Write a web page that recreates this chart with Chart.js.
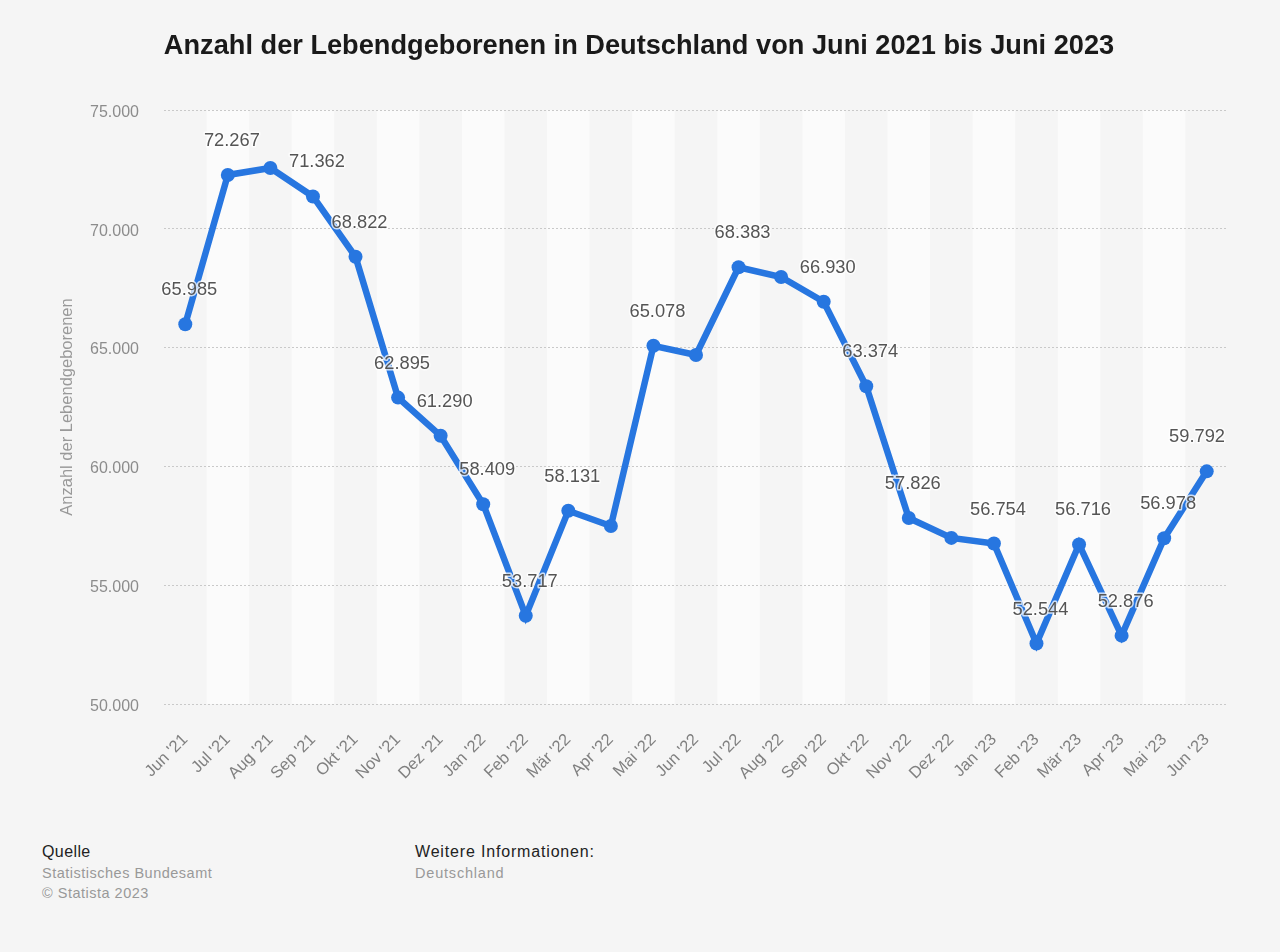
<!DOCTYPE html>
<html lang="de">
<head>
<meta charset="utf-8">
<title>Lebendgeborene in Deutschland</title>
<script src="https://cdn.jsdelivr.net/npm/chart.js@4"></script>
<style>
    html, body { margin: 0; padding: 0; background: #f5f5f5; font-family: "Liberation Sans", Arial, sans-serif; }
    #wrap { position: relative; width: 1280px; height: 952px; overflow: hidden; }
    #geburten_chart { position: absolute; left: 0; top: 0; }
    .quelle { position: absolute; top: 842px; font-size: 14.5px; line-height: 20.5px; color: #999; letter-spacing: 0.5px; }
    .quelle b { display: block; font-weight: normal; font-size: 16px; color: #222; letter-spacing: 0.4px; }
</style>
</head>
<body>
<div id="wrap">
    <canvas id="geburten_chart" width="1280" height="800"></canvas>
    <div class="quelle" style="left: 42px;"><b>Quelle</b>Statistisches Bundesamt<br>© Statista 2023</div>
    <div class="quelle" style="left: 415px; letter-spacing: 0.8px;"><b style="letter-spacing: 0.83px;">Weitere Informationen:</b>Deutschland</div>
</div>
<script>
const monate = ["Jun '21", "Jul '21", "Aug '21", "Sep '21", "Okt '21", "Nov '21", "Dez '21", "Jan '22", "Feb '22", "Mär '22", "Apr '22", "Mai '22", "Jun '22", "Jul '22", "Aug '22", "Sep '22", "Okt '22", "Nov '22", "Dez '22", "Jan '23", "Feb '23", "Mär '23", "Apr '23", "Mai '23", "Jun '23"];
const geburten = [65985, 72267, 72560, 71362, 68822, 62895, 61290, 58409, 53717, 58131, 57490, 65078, 64690, 68383, 67970, 66930, 63374, 57826, 56990, 56754, 52544, 56716, 52876, 56978, 59792];
const ohne_label = ["Aug '21", "Apr '22", "Jun '22", "Aug '22", "Dez '22"];
const y_ticks = [50000, 55000, 60000, 65000, 70000, 75000];

const zahl_format = new Intl.NumberFormat("de-DE");

// helle Streifen hinter jedem zweiten Monat
const streifen_plugin = {
    id: "streifen",
    beforeDraw(chart) {
        const { ctx, chartArea, scales } = chart;
        const breite = scales.x.getPixelForValue(1) - scales.x.getPixelForValue(0);
        ctx.save();
        ctx.fillStyle = "#fbfbfb";
        monate.forEach((monat, i) => {
            if (i % 2 == 1) {
                const mitte = scales.x.getPixelForValue(i);
                ctx.fillRect(mitte - breite / 2, chartArea.top, breite, chartArea.height);
            }
        });
        ctx.restore();
    }
};

const werte_plugin = {
    id: "werte",
    afterDatasetsDraw(chart) {
        const { ctx, chartArea, scales } = chart;
        ctx.save();
        ctx.font = "18.3px 'Liberation Sans'";
        ctx.textAlign = "center";
        ctx.textBaseline = "middle";
        geburten.forEach((wert, i) => {
            if (ohne_label.includes(monate[i])) return;
            const text = zahl_format.format(wert);
            const halbe = ctx.measureText(text).width / 2;
            const x = Math.min(scales.x.getPixelForValue(i) + 4, chartArea.right - 3 - halbe);
            const y = scales.y.getPixelForValue(wert) - 34;
            ctx.lineJoin = "round";
            ctx.lineWidth = 3;
            ctx.strokeStyle = "rgba(255,255,255,0.75)";
            ctx.strokeText(text, x, y);
            ctx.fillStyle = "#555555";
            ctx.fillText(text, x, y);
        });
        ctx.restore();
    }
};

new Chart(document.getElementById("geburten_chart"), {
    type: "line",
    plugins: [streifen_plugin, werte_plugin],
    data: {
        labels: monate,
        datasets: [{
            data: geburten,
            borderColor: "#2776e0",
            backgroundColor: "#2776e0",
            borderWidth: 6.5,
            pointRadius: 7,
            pointBorderWidth: 0,
            pointHoverRadius: 7,
            tension: 0
        }]
    },
    options: {
        responsive: false,
        animation: false,
        layout: { padding: { left: 50, right: 52, top: 0, bottom: 0 } },
        plugins: {
            legend: { display: false },
            tooltip: { enabled: false },
            title: {
                display: true,
                text: "Anzahl der Lebendgeborenen in Deutschland von Juni 2021 bis Juni 2023",
                color: "#1a1a1a",
                font: { family: "'Liberation Sans'", size: 27.2, weight: "bold", lineHeight: 1.2 },
                padding: { top: 30, bottom: 47.36 }
            }
        },
        scales: {
            x: {
                offset: true,
                grid: { display: false },
                border: { display: false },
                afterFit(scale) { scale.height = 96; },
                ticks: {
                    autoSkip: false,
                    minRotation: 45,
                    maxRotation: 45,
                    padding: 18,
                    color: "#808080",
                    font: { family: "'Liberation Sans'", size: 16.5 }
                }
            },
            y: {
                min: 50000,
                max: 75000,
                afterFit(scale) { scale.width = 114; },
                afterBuildTicks(scale) { scale.ticks = y_ticks.map(value => ({ value })); },
                title: {
                    display: true,
                    text: "Anzahl der Lebendgeborenen",
                    color: "#999999",
                    font: { family: "'Liberation Sans'", size: 16.5 },
                    padding: { top: 8, bottom: 0 }
                },
                grid: { color: "#c9c9c9", lineWidth: 1, drawTicks: false },
                border: { display: false, dash: [2, 2] },
                ticks: {
                    padding: 25,
                    color: "#8c8c8c",
                    // leere erste Zeile: schiebt die Zahl etwas unter die Gitterlinie
                    font: { family: "'Liberation Sans'", size: 16, lineHeight: 0.3 },
                    callback: value => ["", zahl_format.format(value)]
                }
            }
        }
    }
});
</script>
</body>
</html>
